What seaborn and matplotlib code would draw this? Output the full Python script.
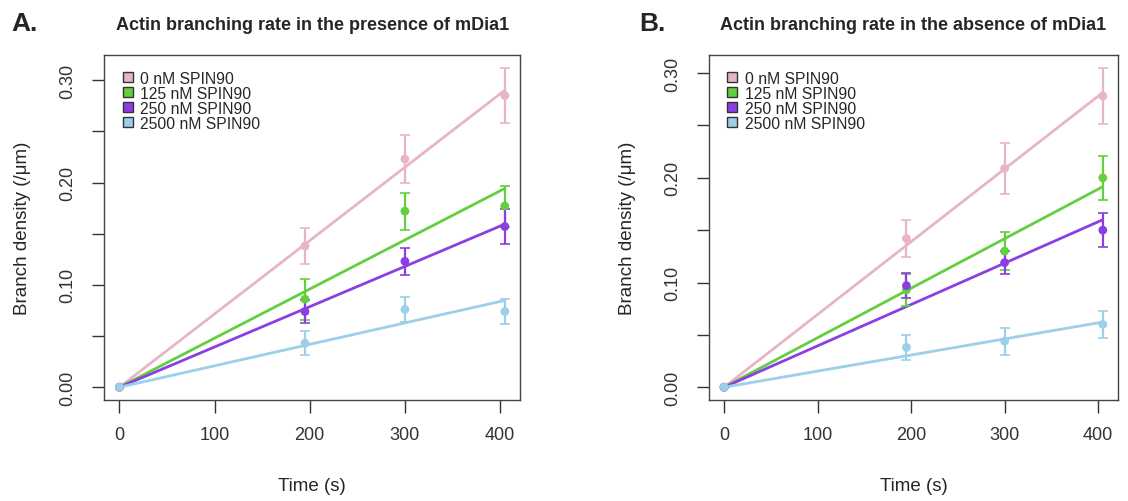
import numpy as np
import pandas as pd
import matplotlib
matplotlib.use("Agg")
import matplotlib.pyplot as plt
import seaborn as sns
from matplotlib.lines import Line2D

# time points (s)
time = [0, 195, 300, 405]
labels = ["0 nM SPIN90", "125 nM SPIN90", "250 nM SPIN90", "2500 nM SPIN90"]
colors = ["#E8B6C3", "#63CF3F", "#8B3FE3", "#9CCFE8"]

# panel A: with mDia1
a_0nm = [0.0, 0.138, 0.223, 0.285]
a_125nm = [0.0, 0.086, 0.172, 0.177]
a_250nm = [0.0, 0.074, 0.123, 0.157]
a_2500nm = [0.0, 0.043, 0.076, 0.074]
a_err_0nm = [0.0, 0.018, 0.023, 0.027]
a_err_125nm = [0.0, 0.020, 0.018, 0.020]
a_err_250nm = [0.0, 0.011, 0.013, 0.017]
a_err_2500nm = [0.0, 0.012, 0.012, 0.012]

# panel B: without mDia1
b_0nm = [0.0, 0.142, 0.209, 0.278]
b_125nm = [0.0, 0.093, 0.130, 0.200]
b_250nm = [0.0, 0.097, 0.119, 0.150]
b_2500nm = [0.0, 0.038, 0.044, 0.060]
b_err_0nm = [0.0, 0.018, 0.024, 0.027]
b_err_125nm = [0.0, 0.015, 0.018, 0.021]
b_err_250nm = [0.0, 0.012, 0.011, 0.016]
b_err_2500nm = [0.0, 0.012, 0.013, 0.013]

sns.set_style("ticks")
plt.rcParams["font.family"] = ["Liberation Sans", "DejaVu Sans"]


def panel(ax, series, errors, title):
    x = np.array(time, dtype=float)
    for lab, col, y, e in zip(labels, colors, series, errors):
        y = np.array(y)
        # linear fit through origin
        slope = np.sum(x * y) / np.sum(x * x)
        fit = pd.DataFrame({"t": [0, x.max()], "v": [0, slope * x.max()]})
        sns.lineplot(data=fit, x="t", y="v", color=col, lw=2, ax=ax, zorder=2)
        ax.errorbar(x[1:], y[1:], yerr=np.array(e)[1:], fmt="none", ecolor=col,
                    elinewidth=1.6, capsize=3.5, capthick=1.2, zorder=3)
        sns.scatterplot(x=x, y=y, color=col, s=40, edgecolor="none", ax=ax, zorder=4)

    ymax = max(max(np.array(s) + np.array(e)) for s, e in zip(series, errors))
    pad = ymax * 0.04
    ax.set_ylim(-pad, ymax + pad)
    ax.set_xlim(-0.04 * 405, 405 * 1.04)
    ax.set_xticks([0, 100, 200, 300, 400])
    yt = np.arange(0, 0.301, 0.05)
    ax.set_yticks(yt)
    ax.set_yticklabels(["%.2f" % v if i % 2 == 0 else "" for i, v in enumerate(yt)],
                       rotation=90, va="center")
    ax.tick_params(length=9, width=1, labelsize=13, colors="#333333")
    ax.tick_params(axis="x", pad=10)
    ax.tick_params(axis="y", pad=11)
    for sp in ax.spines.values():
        sp.set_visible(True)
        sp.set_color("#444444")
        sp.set_linewidth(1)
    ax.set_xlabel("Time (s)", fontsize=13.5, labelpad=24)
    ax.set_ylabel("Branch density (/μm)", fontsize=13.5, labelpad=20)
    ax.set_title(title, fontsize=13, fontweight="bold", pad=19)

    handles = [Line2D([], [], marker="s", ls="none", markersize=7,
                      markerfacecolor=c, markeredgecolor="#333333", markeredgewidth=1)
               for c in colors]
    ax.legend(handles, labels, loc="upper left", frameon=False, fontsize=11.3,
              handletextpad=0.3, labelspacing=0.0, borderaxespad=0.6,
              handlelength=1.0)
    return ax


fig = plt.figure(figsize=(11.28, 5.02), dpi=100)
ax1 = fig.add_axes([0.0922, 0.2012, 0.369, 0.687])
ax2 = fig.add_axes([0.6285, 0.2012, 0.3626, 0.687])

panel(ax1, [a_0nm, a_125nm, a_250nm, a_2500nm],
      [a_err_0nm, a_err_125nm, a_err_250nm, a_err_2500nm],
      "Actin branching rate in the presence of mDia1")
panel(ax2, [b_0nm, b_125nm, b_250nm, b_2500nm],
      [b_err_0nm, b_err_125nm, b_err_250nm, b_err_2500nm],
      "Actin branching rate in the absence of mDia1")

fig.text(0.010, 0.952, "A.", fontsize=19, fontweight="bold", va="center")
fig.text(0.567, 0.952, "B.", fontsize=19, fontweight="bold", va="center")

fig.savefig("out.png", dpi=100)
